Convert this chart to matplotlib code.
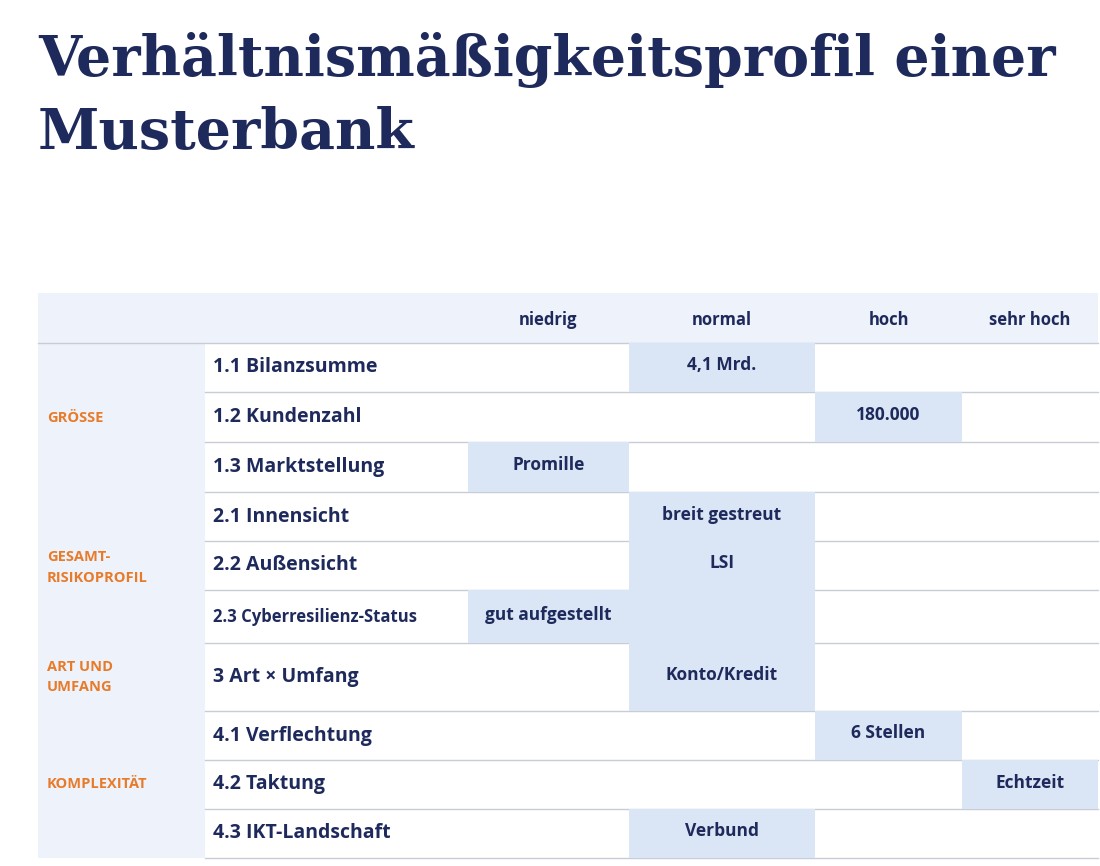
import matplotlib.pyplot as plt
from matplotlib.patches import Rectangle

title = "Verhältnismäßigkeitsprofil einer\nMusterbank"
levels = ["niedrig", "normal", "hoch", "sehr hoch"]
row_labels = ["1.1 Bilanzsumme", "1.2 Kundenzahl", "1.3 Marktstellung",
              "2.1 Innensicht", "2.2 Außensicht", "2.3 Cyberresilienz-Status",
              "3 Art × Umfang", "4.1 Verflechtung", "4.2 Taktung", "4.3 IKT-Landschaft"]
# level index per row (0=niedrig .. 3=sehr hoch) and the cell text
row_level = [1, 2, 0, 1, 1, 0, 1, 2, 3, 1]
row_value = ["4,1 Mrd.", "180.000", "Promille", "breit gestreut", "LSI",
             "gut aufgestellt", "Konto/Kredit", "6 Stellen", "Echtzeit", "Verbund"]
groups = ["GRÖSSE", "GESAMT-\nRISIKOPROFIL", "ART UND\nUMFANG", "KOMPLEXITÄT"]
group_rows = [(0, 3), (3, 6), (6, 7), (7, 10)]

NAVY = "#1f2a5c"
ORANGE = "#e87b2a"
PALE = "#eef3fb"
HILITE = "#dae5f5"
LINE = "#c8ccd4"

col_x = [38, 205, 468, 629, 815, 962, 1098]
row_y = [293, 343, 392, 442, 492, 541, 590, 643, 711, 760, 809, 858]

fig = plt.figure(figsize=(11, 8.66), dpi=100)
ax = fig.add_axes([0, 0, 1, 1])
ax.set_xlim(0, 1100)
ax.set_ylim(866, 0)
ax.axis("off")

ax.text(38, 60, title.split("\n")[0], fontsize=40, fontweight="bold",
        family="DejaVu Serif", color=NAVY, va="center")
ax.text(38, 134, title.split("\n")[1], fontsize=40, fontweight="bold",
        family="DejaVu Serif", color=NAVY, va="center")

sans = "Open Sans"
# header
ax.add_patch(Rectangle((col_x[0], row_y[0]), col_x[-1] - col_x[0], row_y[1] - row_y[0],
                       fc=PALE, ec="none"))
ax.plot([col_x[0], col_x[-1]], [row_y[1], row_y[1]], color=LINE, lw=1)
for i, lv in enumerate(levels):
    ax.text((col_x[i + 2] + col_x[i + 3]) / 2, 320, lv, fontsize=12, fontweight="bold",
            family=sans, color=NAVY, ha="center", va="center")

# group column
ax.add_patch(Rectangle((col_x[0], row_y[1]), col_x[1] - col_x[0], row_y[-1] - row_y[1],
                       fc=PALE, ec="none"))
for g, (a, b) in zip(groups, group_rows):
    ax.text(47, (row_y[a + 1] + row_y[b + 1]) / 2, g, fontsize=10.5, fontweight="bold",
            family=sans, color=ORANGE, va="center", linespacing=1.6)

for r, (lab, lv, val) in enumerate(zip(row_labels, row_level, row_value)):
    y0, y1 = row_y[r + 1], row_y[r + 2]
    ym = (y0 + y1) / 2
    ax.plot([col_x[1], col_x[-1]], [y1, y1], color=LINE, lw=1, zorder=1)
    ax.add_patch(Rectangle((col_x[lv + 2], y0), col_x[lv + 3] - col_x[lv + 2], y1 - y0,
                           fc=HILITE, ec="none", zorder=2))
    fs = 12 if r == 5 else 14
    ax.text(213, ym, lab, fontsize=fs, fontweight="bold", family=sans,
            color=NAVY, va="center")
    ax.text((col_x[lv + 2] + col_x[lv + 3]) / 2, ym - 2, val, fontsize=12.5,
            fontweight="bold", family=sans, color=NAVY, ha="center", va="center", zorder=3)

# merged normal cell for 2.3 (breit gestreut block continues)
ax.add_patch(Rectangle((col_x[3], row_y[6]), col_x[4] - col_x[3], row_y[7] - row_y[6],
                       fc=HILITE, ec="none", zorder=2))
ax.add_patch(Rectangle((col_x[3], row_y[4]), col_x[4] - col_x[3], row_y[8] - row_y[4],
                       fc=HILITE, ec="none", zorder=2))

fig.savefig("out.png", dpi=100, facecolor="white")
